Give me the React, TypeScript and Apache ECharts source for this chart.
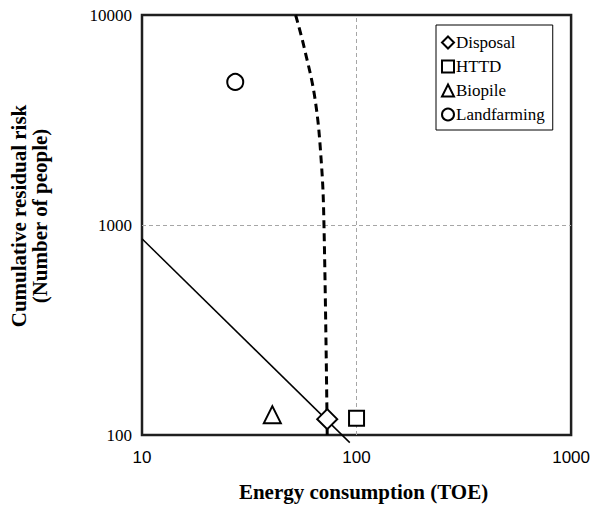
import React, { useEffect, useRef } from "react";
import * as echarts from "echarts";

const seriesNames = ["Disposal", "HTTD", "Biopile", "Landfarming"];
const seriesSymbols = ["diamond", "rect", "triangle", "circle"];
const seriesSizes = [20, 15, 17, 16];
const energyValues = [73, 100, 40.5, 27.2];
const riskValues = [119, 120, 125, 4800];

const solidLineX = [10, 93];
const solidLineY = [860, 92];

const dashedCurveX = [52, 57, 64, 68.5, 70.5, 73];
const dashedCurveY = [10000, 7000, 4000, 2000, 1000, 100];

const xTickValues = [10, 100, 1000];
const yTickValues = [100, 1000, 10000];
const xGridValue = 100;
const yGridValue = 1000;

const serif = "'Liberation Serif', 'Times New Roman', serif";
const sans = "'Liberation Sans', Arial, sans-serif";

export default function App() {
  const ref = useRef<HTMLDivElement>(null);
  useEffect(() => {
    if (!ref.current) return;
    const chart = echarts.init(ref.current, undefined, { renderer: "svg" });
    const scatter = seriesNames.map((name, i) => ({
      name,
      type: "scatter",
      symbol: seriesSymbols[i],
      symbolSize: seriesSizes[i],
      z: 5,
      itemStyle: { color: "#fff", borderColor: "#000", borderWidth: 2, opacity: 1 },
      data: [[energyValues[i], riskValues[i]]],
    }));
    const gridLine = { color: "#a6a6a6", type: [4, 3], width: 1 };
    chart.setOption({
      animation: false,
      backgroundColor: "#fff",
      grid: {
        left: 138,
        right: 17,
        top: 15,
        bottom: 73,
        show: true,
        borderColor: "#1f1f1f",
        borderWidth: 2.5,
        backgroundColor: "transparent",
      },
      legend: {
        data: seriesNames,
        orient: "vertical",
        left: 436,
        top: 25,
        padding: [9, 8, 7, 5],
        itemGap: 7,
        itemWidth: 12,
        itemHeight: 12,
        borderColor: "#000",
        borderWidth: 1,
        backgroundColor: "#fff",
        textStyle: { fontFamily: serif, fontSize: 17, color: "#000", padding: [0, 0, 0, -3] },
      },
      xAxis: {
        type: "log",
        logBase: 10,
        min: 10,
        max: 1000,
        name: "Energy consumption (TOE)",
        nameLocation: "middle",
        nameGap: 46,
        nameTextStyle: {
          fontFamily: serif,
          fontSize: 21,
          fontWeight: "bold",
          color: "#000",
          padding: [0, 0, 0, 14],
        },
        axisLine: { show: false },
        axisTick: { show: false },
        minorTick: { show: false },
        axisLabel: {
          fontFamily: sans,
          fontSize: 17,
          color: "#000",
          margin: 14,
          formatter: (v: number) => (xTickValues.includes(Math.round(v)) ? String(Math.round(v)) : ""),
        },
        splitLine: { show: false },
      },
      yAxis: {
        type: "log",
        logBase: 10,
        min: 100,
        max: 10000,
        name: "Cumulative residual risk\n(Number of people)",
        nameLocation: "middle",
        nameGap: 92,
        nameRotate: 90,
        nameTextStyle: {
          fontFamily: serif,
          fontSize: 21,
          fontWeight: "bold",
          color: "#000",
          lineHeight: 21,
          padding: [0, 0, 0, 18],
        },
        axisLine: { show: false },
        axisTick: { show: false },
        axisLabel: {
          fontFamily: serif,
          fontSize: 17,
          color: "#000",
          margin: 10,
          formatter: (v: number) => (yTickValues.includes(Math.round(v)) ? String(Math.round(v)) : ""),
        },
        splitLine: { show: false },
      },
      series: [
        {
          type: "line",
          name: "solid",
          data: solidLineX.map((x, i) => [x, solidLineY[i]]),
          showSymbol: false,
          symbol: "none",
          clip: false,
          z: 3,
          lineStyle: { color: "#000", width: 1.5 },
          markLine: {
            silent: true,
            symbol: "none",
            label: { show: false },
            lineStyle: gridLine,
            z: 1,
            data: [{ xAxis: xGridValue }, { yAxis: yGridValue }],
          },
        },
        {
          type: "line",
          name: "dashed",
          data: dashedCurveX.map((x, i) => [x, dashedCurveY[i]]),
          showSymbol: false,
          symbol: "none",
          smooth: 0.4,
          z: 3,
          lineStyle: { color: "#000", width: 3, type: [8, 5] },
        },
        ...scatter,
      ],
    });
    return () => chart.dispose();
  }, []);
  return (
    <div
      ref={ref}
      style={{ position: "absolute", left: 0, top: 0, width: 593, height: 508 }}
    />
  );
}
